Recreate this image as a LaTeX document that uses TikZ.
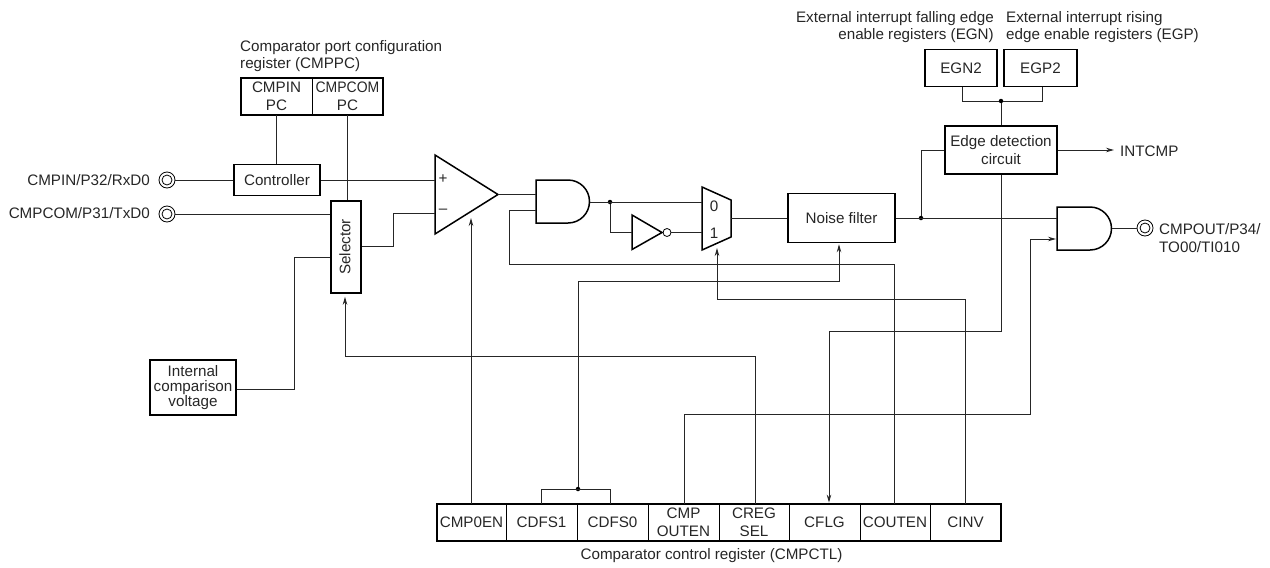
\documentclass[tikz,border=0pt]{standalone}
\usepackage{graphicx}
\usepackage{fontspec}
\setmainfont{Liberation Sans}
\usetikzlibrary{arrows.meta,calc}
\tikzset{
  x=1pt,y=-1pt,
  txt/.style={inner sep=0pt,font=\fontsize{15.2}{17.7}\selectfont,align=center,text=black!85},
  lbl/.style={txt,align=left,anchor=west},
  rlbl/.style={txt,align=right,anchor=east},
  box/.style={txt,draw=black,line width=1.6pt,inner sep=0pt,anchor=center},
  cell/.style={txt,draw=black,line width=0.8pt,inner sep=0pt,anchor=center},
  frame/.style={draw=black,line width=1.6pt,inner sep=0pt},
  wire/.style={line width=0.9pt,draw=black!85},
  gate/.style={line width=1.5pt,draw=black,line join=miter},
  arr/.style={wire,-{Stealth[length=8pt,width=4.5pt]},shorten >=1pt},
  pinout/.style={circle,draw=black,line width=0.8pt,minimum size=16pt,inner sep=0pt},
  pinin/.style={circle,draw=black,line width=0.8pt,minimum size=10pt,inner sep=0pt},
  dotj/.style={circle,fill=black,minimum size=4.5pt,inner sep=0pt},
  bub/.style={circle,draw=black,line width=0.8pt,minimum size=8pt,inner sep=0pt},
}
\begin{document}
\begin{tikzpicture}
\useasboundingbox (0,0) rectangle (1270,568);

% labels
\node[lbl] (cmppcl) at (240,56) {Comparator port configuration\\register (CMPPC)};
\node[rlbl] (egnl) at (994,27) {External interrupt falling edge\\enable registers (EGN)};
\node[lbl] (egpl) at (1006,27) {External interrupt rising\\edge enable registers (EGP)};
\node[txt] (ctll) at (711.5,556) {Comparator control register (CMPCTL)};

% CMPPC
\node[cell,minimum width=71pt,minimum height=37pt] (pcin) at (276.5,96.5) {CMPIN\\PC};
\node[cell,minimum width=71pt,minimum height=37pt] (pccom) at (347.5,96.5) {\scalebox{0.92}[1]{CMPCOM}\\PC};
\node[frame,minimum width=142pt,minimum height=37pt] (pcframe) at (312,96.5) {};

% blocks
\node[box,minimum width=86pt,minimum height=31pt] (ctrl) at (277,180) {Controller};
\node[box,minimum width=30pt,minimum height=92pt] (sel) at (346,247) {};
\node[txt,rotate=90] (sellbl) at (345,247) {Selector};
\node[box,minimum width=86pt,minimum height=55pt,font=\fontsize{15.2}{15.3}\selectfont] (icv) at (193,387.5) {Internal\\comparison\\voltage};
\node[box,minimum width=107pt,minimum height=49pt] (nf) at (841.5,218) {Noise filter};
\node[box,minimum width=112pt,minimum height=48pt] (edge) at (1001,150) {Edge detection\\circuit};
\node[box,minimum width=72pt,minimum height=37pt] (egn) at (961,68) {EGN2};
\node[box,minimum width=73pt,minimum height=37pt] (egp) at (1040.5,68) {EGP2};

% pins
\node[pinout] (pa) at (167,180) {}; \node[pinin] at (pa) {};
\node[pinout] (pb) at (167,214) {}; \node[pinin] at (pb) {};
\node[pinout] (pc) at (1145,228) {}; \node[pinin] at (pc) {};
\node[rlbl] (pal) at (150,180) {CMPIN/P32/RxD0};
\node[rlbl] (pbl) at (150,213) {CMPCOM/P31/TxD0};
\node[lbl] (pcl) at (1159,238) {CMPOUT/P34/\\TO00/TI010};
\node[lbl] (intl) at (1120,151) {INTCMP};

% register
\foreach \n/\c/\w/\t in {r0/471.5/69/CMP0EN,r1/541.5/71/CDFS1,r2/612.5/71/CDFS0,r3/683.5/71/{CMP\\OUTEN},r4/754/70/{CREG\\SEL},r5/824.5/71/CFLG,r6/895/70/COUTEN,r7/965.5/71/CINV}{
  \node[cell,minimum width=\w pt,minimum height=37pt] (\n) at (\c,522.5) {\t};
}
\node[frame,minimum width=564pt,minimum height=37pt] (rframe) at (719,522.5) {};

% comparator
\draw[gate,fill=white] (435,155) -- (498,194.5) -- (435,234) -- cycle;
\coordinate (cmpP) at (435,180); \coordinate (cmpM) at (435,213);
\coordinate (cmpO) at (498,194.5); \coordinate (cmpE) at (471,217);
\node[txt] (plus) at (443,179) {+};
\node[txt] (minus) at (443,211) {–};

% AND 1
\draw[gate] (536,180) -- (568,180) arc (90:-90:21.5 and -21.5) -- (536,223) -- cycle;
\coordinate (a1A) at (536,194.5); \coordinate (a1B) at (536,210); \coordinate (a1O) at (590,202);

% inverter
\draw[gate] (632,215) -- (662,232.5) -- (632,249.5) -- cycle;
\node[bub] (bb) at (667,232.5) {};
\coordinate (invI) at (632,232.5);

% mux
\draw[gate] (702,187) -- (731,200) -- (731,237) -- (702,250) -- cycle;
\coordinate (m0) at (702,202); \coordinate (m1) at (702,232.5);
\coordinate (mO) at (731,218); \coordinate (mS) at (717,247);
\node[txt] (m0l) at (714,206) {0};
\node[txt] (m1l) at (714,233) {1};

% AND 2
\draw[gate] (1057,207) -- (1090,207) arc (90:-90:21.5 and -21.5) -- (1057,250) -- cycle;
\coordinate (a2A) at (1057,218); \coordinate (a2B) at (1057,239); \coordinate (a2O) at (1112,228);

% junctions
\node[dotj] (j1) at (610,202) {};
\node[dotj] (j2) at (921,218) {};
\node[dotj] (j3) at (1001,101) {};
\node[dotj] (j4) at (578,489) {};

% wires
\draw[wire] (pcin.south) -- (ctrl.north -| pcin.south);
\draw[wire] (pccom.south) -- (sel.north -| pccom.south);
\draw[wire] (pa) -- (ctrl.west |- pa);
\draw[wire] (ctrl.east) -- (cmpP);
\draw[wire] (pb) -- (sel.west |- pb);
\draw[wire] (sel.east |- 0,246) -- (393,246) -- (393,213) -- (cmpM);
\draw[wire] (icv.east |- 0,389) -- (294,389) -- (294,257) -- (sel.west |- 0,257);
\draw[arr,shorten >=3pt] (r4.north -| 755,0) -- (755,356) -- (345,356) -- (sel.south -| 345,0);
\draw[arr] (r0.north -| 471,0) -- (cmpE);
\draw[wire] (cmpO) -- (a1A);
\draw[wire] (a1O) -- (m0);
\draw[wire] (j1) |- (invI);
\draw[wire] (bb) -- (m1);
\draw[wire] (a1B) -- (509,210) -- (509,264) -- (894,264) -- (r6.north -| 894,0);
\draw[arr] (r7.north -| 965,0) -- (965,299) -- (717,299) -- (mS);
\draw[wire] (mO) -- (nf.west |- mO);
\draw[arr] (j4) -- (578,281) -- (839,281) -- (nf.south -| 839,0);
\draw[wire] (541,504) -- (541,489) -- (610,489) -- (610,504);
\draw[wire] (nf.east) -- (a2A);
\draw[wire] (j2) |- (edge.west);
\draw[arr] (edge.east) -- (edge.east -| 1115,0);
\draw[wire] (egn.south -| 962,0) |- (j3);
\draw[wire] (egp.south -| 1042,0) |- (j3);
\draw[wire] (j3) -- (edge.north);
\draw[arr] (edge.south) -- (1001,331) -- (829,331) -- (r5.north -| 829,0);
\draw[arr] (r3.north -| 684,0) -- (684,414) -- (1030,414) -- (1030,239) -- (a2B);
\draw[wire] (a2O) -- (pc);
\end{tikzpicture}
\end{document}
